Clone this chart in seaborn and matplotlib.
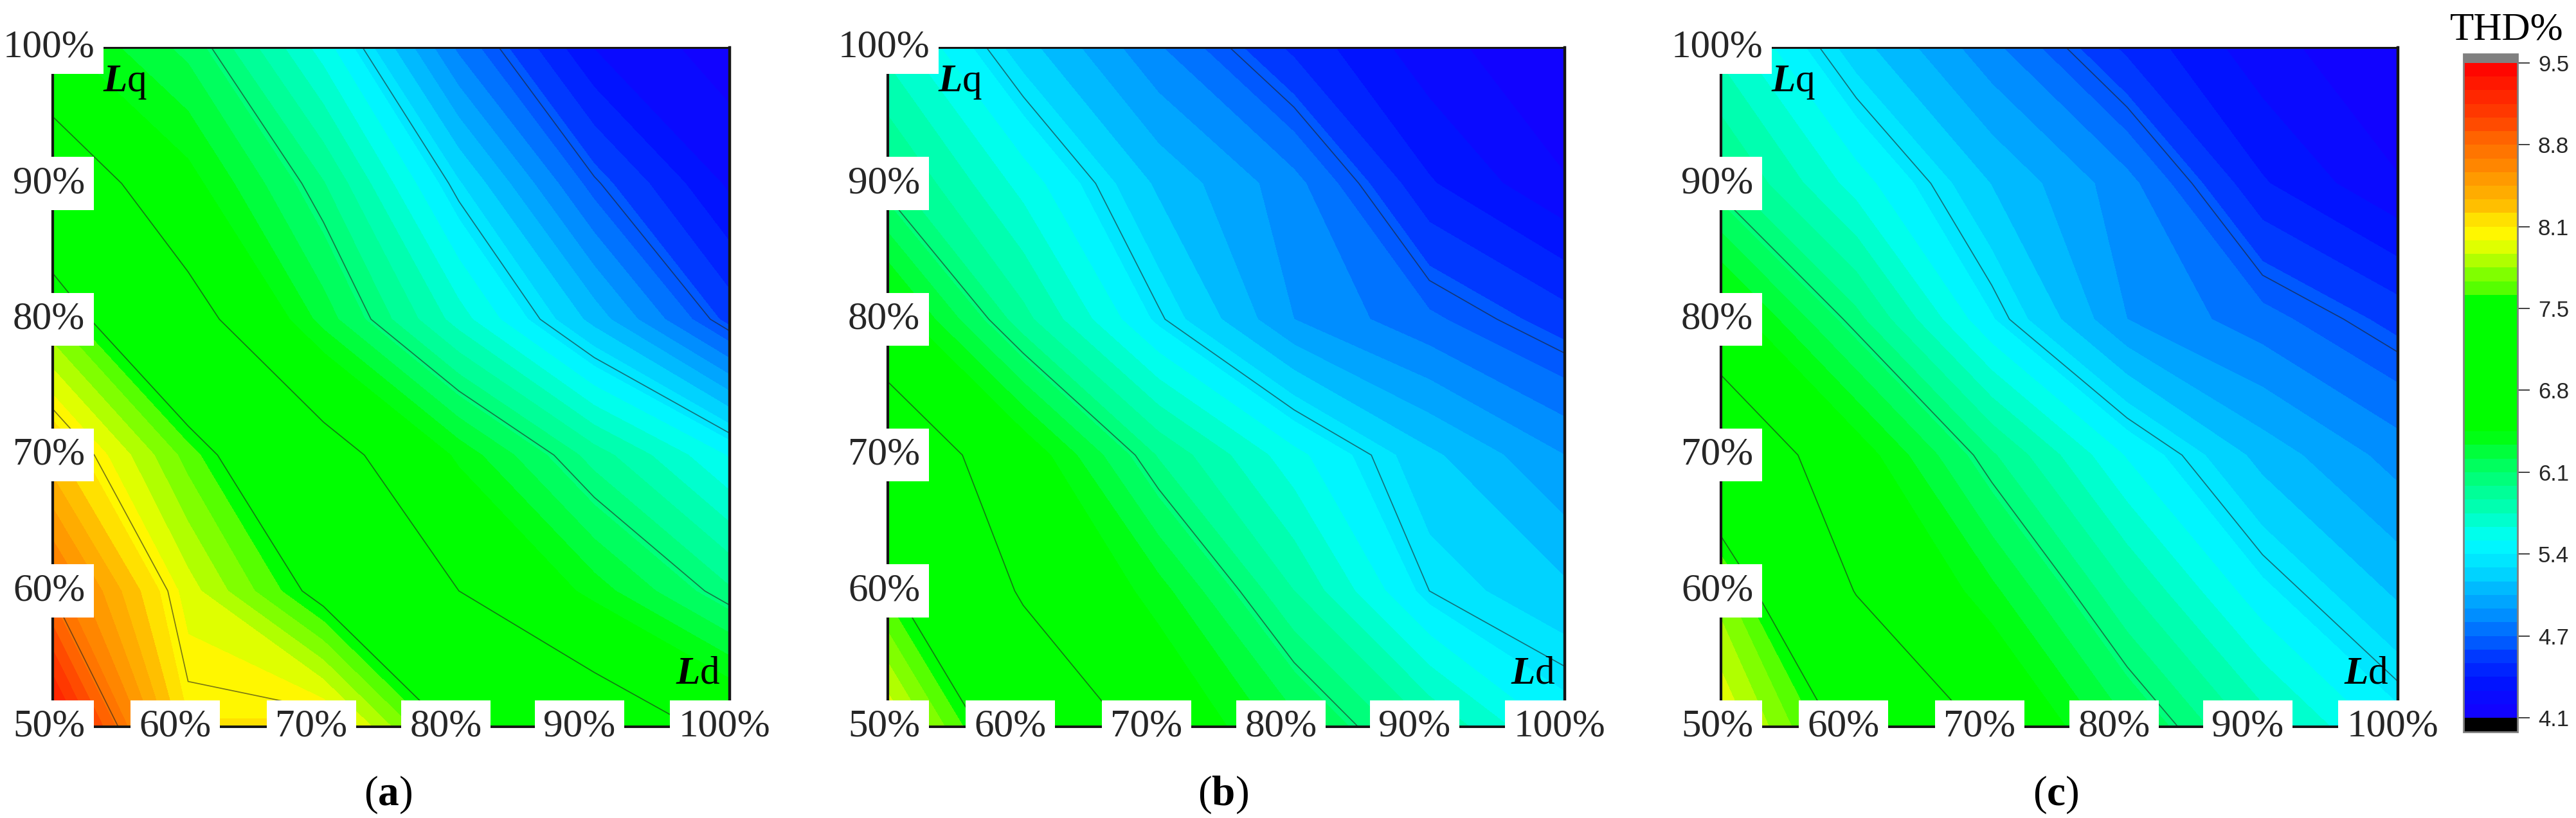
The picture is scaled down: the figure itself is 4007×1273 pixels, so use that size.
import numpy as np
import seaborn as sns
import matplotlib.pyplot as plt
from matplotlib import transforms as mtrans
from matplotlib.colors import LinearSegmentedColormap

# inductance ratios, rows of each grid go from Lq = 50% up to Lq = 100%
ld = [50, 60, 70, 80, 90, 100]
lq = [50, 60, 70, 80, 90, 100]

thd_a = [
    [9.40, 8.16, 8.20, 7.43, 7.06, 6.70],
    [8.78, 7.98, 7.41, 6.80, 6.41, 6.03],
    [8.30, 7.65, 6.96, 6.43, 5.96, 5.55],
    [7.71, 6.95, 6.30, 5.73, 5.18, 4.62],
    [7.09, 6.52, 6.02, 5.35, 4.72, 4.30],
    [6.50, 6.20, 5.62, 4.86, 4.32, 4.15],
]
thd_b = [
    [8.05, 7.22, 6.65, 6.28, 5.90, 5.52],
    [7.55, 6.75, 6.40, 5.90, 5.40, 5.25],
    [7.07, 6.58, 6.00, 5.60, 5.25, 5.00],
    [6.57, 5.94, 5.42, 5.00, 4.80, 4.60],
    [6.05, 5.63, 5.20, 4.93, 4.45, 4.22],
    [5.75, 5.27, 4.90, 4.52, 4.25, 4.12],
]
thd_c = [
    [8.05, 7.38, 6.72, 6.25, 5.85, 5.50],
    [7.75, 6.78, 6.38, 5.91, 5.48, 5.20],
    [7.13, 6.55, 6.03, 5.55, 5.18, 4.95],
    [6.57, 6.05, 5.46, 5.00, 4.82, 4.62],
    [6.05, 5.62, 5.22, 4.93, 4.45, 4.22],
    [5.75, 5.27, 4.92, 4.52, 4.25, 4.12],
]
panel_names = ['a', 'b', 'c']

line_levels = [4.7, 5.4, 6.1, 6.8, 7.5, 8.1, 8.8]
cbar_ticks = [4.1, 4.775, 5.45, 6.125, 6.8, 7.475, 8.15, 8.825, 9.5]
cbar_labels = ['4.1', '4.7', '5.4', '6.1', '6.8', '7.5', '8.1', '8.8', '9.5']

# colour stops of the THD scale
scale_vals = [4.1, 4.39, 4.56, 4.775, 5.03, 5.25, 5.45, 5.56, 5.82, 6.125, 6.47, 7.6,
              7.66, 7.77, 7.9, 8.05, 8.15, 8.34, 8.57, 8.825, 9.15, 9.5]
scale_cols = ['#1400ff', '#0014ff', '#0032ff', '#0069ff', '#00a0ff', '#00cdff', '#00f0ff',
              '#00ffff', '#00ffb4', '#00ff6e', '#00ff00', '#00ff00',
              '#5aff00', '#82ff00', '#beff00', '#ffff00', '#fff000', '#ffbe00', '#ff9600',
              '#ff6e00', '#ff3200', '#ff0000']

sns.set_theme(style='white')
plt.rcParams['font.family'] = ['Liberation Serif', 'DejaVu Serif']
plt.rcParams['mathtext.fontset'] = 'custom'
plt.rcParams['mathtext.rm'] = 'Liberation Serif'
plt.rcParams['mathtext.bf'] = 'Liberation Serif:bold'
plt.rcParams['mathtext.bfit'] = 'Liberation Serif:italic:bold'

W, H = 4007, 1273
fig = plt.figure(figsize=(W / 100, H / 100), dpi=100, facecolor='white')


def px_axes(x0, y0, x1, y1):
    # pixel box of the reference -> figure fractions
    return fig.add_axes([x0 / W, 1 - y1 / H, (x1 - x0) / W, (y1 - y0) / H])


stops = [(v - scale_vals[0]) / (scale_vals[-1] - scale_vals[0]) for v in scale_vals]
cmap = LinearSegmentedColormap.from_list('thd', list(zip(stops, scale_cols)))
cmap = cmap.with_extremes(over='#808080', under='black')
levels = np.linspace(4.1, 9.5, 49)

FS = 44
box = dict(boxstyle='square,pad=0.22', facecolor='white', edgecolor='none')
x_shift = [-20, -19, -20, -23, -8]

lefts = [82, 1381, 2677]
cf = None
for name, left, thd in zip(panel_names, lefts, [thd_a, thd_b, thd_c]):
    ax = px_axes(left, 74, left + 1053, 1131)
    ax.set_axisbelow(False)
    cf = ax.contourf(ld, lq, thd, levels=levels, cmap=cmap, extend='both')
    ax.contour(ld, lq, thd, levels=line_levels, colors='#202020', linewidths=1.2, alpha=0.6)

    ax.set_xlim(50, 100)
    ax.set_ylim(50, 100)
    ax.set_xticks(ld[1:])
    ax.set_xticklabels([f'{v}%' for v in ld[1:]])
    ax.set_yticks(lq)
    ax.set_yticklabels([f'{v}%' for v in lq])
    ax.tick_params(axis='x', length=0, pad=0, labelsize=FS)
    ax.tick_params(axis='y', length=0, pad=4.3, labelsize=FS)
    for lab, dx in zip(ax.get_xticklabels(), x_shift):
        lab.set_va('center')
        lab.set_bbox(box)
        lab.set_transform(lab.get_transform()
                          + mtrans.ScaledTranslation(dx / 100, 0, fig.dpi_scale_trans))
    for lab in ax.get_yticklabels():
        lab.set_ha('center')
        lab.set_va('center')
        lab.set_bbox(box)

    for side, lw in zip(['top', 'bottom', 'left', 'right'], [2.2, 2.8, 3, 3.2]):
        ax.spines[side].set_linewidth(lw)
        ax.spines[side].set_color('#151515')
        ax.spines[side].set_visible(True)

    ax.text(53.7, 96.8, r'$\mathbfit{L}$q', fontsize=FS, ha='left', va='baseline', color='black')
    ax.text(99.3, 53.2, r'$\mathbfit{L}$d', fontsize=FS, ha='right', va='baseline', color='black')
    ax.text(0.495, -0.1, rf'($\mathbf{{{name}}}$)', fontsize=FS + 3, ha='center', va='center',
            transform=ax.transAxes, color='black')

# colour scale on the far right
cax = px_axes(3832, 84, 3916, 1139)
cbar = fig.colorbar(cf, cax=cax, ticks=cbar_ticks, extendrect=True, extendfrac=(0.0216, 0.0137),
                    drawedges=False)
cbar.ax.set_yticklabels(cbar_labels, family=['Liberation Sans', 'DejaVu Sans'], fontsize=25)
cbar.ax.tick_params(length=14, width=1.2, color='#202020', pad=9, left=False, right=True)
cbar.outline.set_edgecolor('#808080')
cbar.outline.set_linewidth(2)
fig.text(3899 / W, 1 - 61 / H, 'THD%', fontsize=44, ha='center', va='baseline', color='black')

fig.savefig('out.png', dpi=100)
